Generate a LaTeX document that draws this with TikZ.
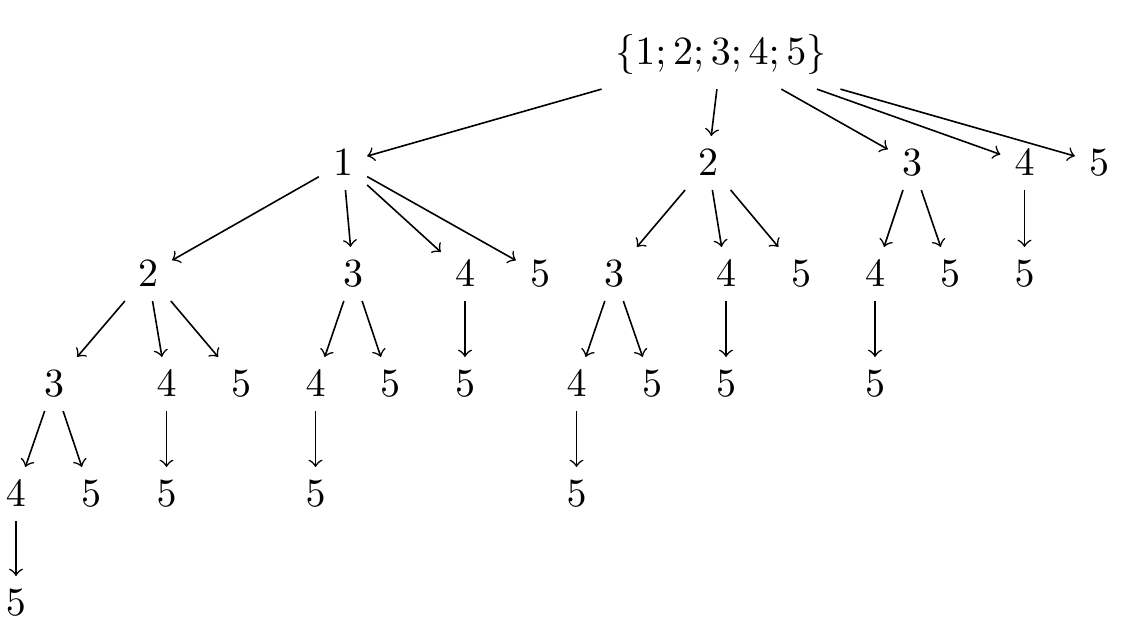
\documentclass[tikz,border=0pt]{standalone}
\begin{document}
\begin{tikzpicture}[x=0.25pt,y=-0.25pt,
  lbl/.style={inner sep=3.333pt},
  arr/.style={->,line width=0.4pt}]
\useasboundingbox (0,0) rectangle (1125,638);
% root
\node[lbl] (r) at (721,55) {$\{1;2;3;4;5\}$};
% level 1
\node[lbl] (a1) at (343,163) {$1$};
\node[lbl] (a2) at (708,163) {$2$};
\node[lbl] (a3) at (912,163) {$3$};
\node[lbl] (a4) at (1024.5,163) {$4$};
\node[lbl] (a5) at (1099,163) {$5$};
% level 2
\node[lbl] (b12) at (148,274) {$2$};
\node[lbl] (b13) at (353,274) {$3$};
\node[lbl] (b14) at (465,274) {$4$};
\node[lbl] (b15) at (540,274) {$5$};
\node[lbl] (b23) at (614,274) {$3$};
\node[lbl] (b24) at (726,274) {$4$};
\node[lbl] (b25) at (801,274) {$5$};
\node[lbl] (b34) at (875,274) {$4$};
\node[lbl] (b35) at (950,274) {$5$};
\node[lbl] (b45) at (1024.5,274) {$5$};
% level 3
\node[lbl] (c123) at (54,384) {$3$};
\node[lbl] (c124) at (166.5,384) {$4$};
\node[lbl] (c125) at (241,384) {$5$};
\node[lbl] (c134) at (315.5,384) {$4$};
\node[lbl] (c135) at (390,384) {$5$};
\node[lbl] (c145) at (465,384) {$5$};
\node[lbl] (c234) at (576.5,384) {$4$};
\node[lbl] (c235) at (652,384) {$5$};
\node[lbl] (c245) at (726,384) {$5$};
\node[lbl] (c345) at (875,384) {$5$};
% level 4
\node[lbl] (d1234) at (16,494) {$4$};
\node[lbl] (d1235) at (91,494) {$5$};
\node[lbl] (d1245) at (166.5,494) {$5$};
\node[lbl] (d1345) at (315.5,494) {$5$};
\node[lbl] (d2345) at (576.5,494) {$5$};
% level 5
\node[lbl] (e12345) at (16,603) {$5$};
% edges
\foreach \s/\t in {r/a1,r/a2,r/a3,r/a4,r/a5,
  a1/b12,a1/b13,a1/b14,a1/b15,a2/b23,a2/b24,a2/b25,a3/b34,a3/b35,a4/b45,
  b12/c123,b12/c124,b12/c125,b13/c134,b13/c135,b14/c145,
  b23/c234,b23/c235,b24/c245,b34/c345,
  c123/d1234,c123/d1235,c124/d1245,c134/d1345,c234/d2345,
  d1234/e12345}
  \draw[arr] (\s) -- (\t);
\end{tikzpicture}
\end{document}
